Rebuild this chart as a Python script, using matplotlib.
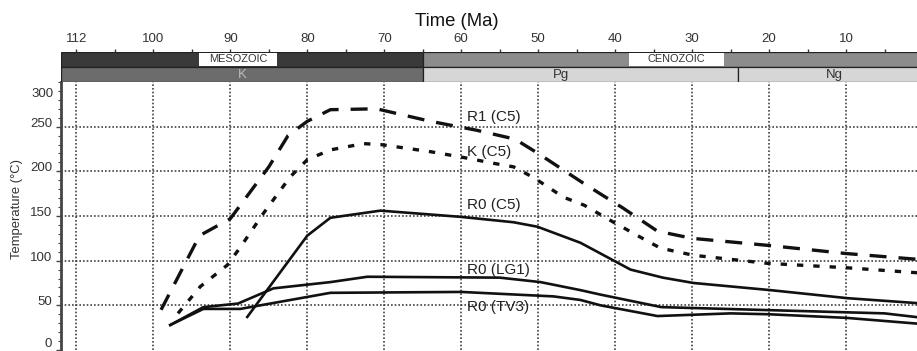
import matplotlib
matplotlib.use('Agg')
import matplotlib.pyplot as plt
from matplotlib.patches import Rectangle
from matplotlib.ticker import MultipleLocator

plt.rcParams['font.family'] = ['Liberation Sans', 'DejaVu Sans']

# ---------------- data ----------------
r1_age = [99, 94, 90, 85, 82.5, 80, 77, 71, 64, 58, 53, 50, 44, 39, 34.5, 30, 20, 10, 0]
r1_temp = [45, 128, 147, 205, 240, 256, 269, 270, 256, 246, 236, 220, 186, 159, 133, 125, 117, 108, 101]

k_age = [96.8, 93.9, 90.4, 88.7, 85.7, 82.2, 80, 77, 72.7, 70.5, 64, 60, 55.8, 53.2, 50.6, 46.7, 44, 40.2, 35.4, 34.1, 29.8, 20.2, 9.8, 0]
k_temp = [41, 71, 95, 115, 153, 194, 213, 224, 231, 230, 222, 216, 209, 205, 193, 171, 162, 143, 120, 114, 106, 97, 92, 86]

r0c5_age = [87.8, 80, 77, 70.5, 60, 53.2, 50.1, 44.5, 41.9, 38, 33.8, 29.8, 19.8, 9.8, 0]
r0c5_temp = [37, 128, 148, 156, 149, 143, 138, 120, 108, 90, 81, 75, 67, 58, 52]

lg1_age = [97.8, 93.5, 89, 84.4, 77, 72.2, 55, 49.7, 44.5, 41.9, 34, 5, 0]
lg1_temp = [28, 48, 52, 69, 76, 82, 81, 76, 67, 62, 48, 41, 36]

tv3_age = [97.8, 93.5, 88.7, 77, 60, 48, 44.5, 41.9, 34.5, 25, 20, 10, 0]
tv3_temp = [28, 46, 46, 64, 65, 60, 56, 50, 38, 41, 40, 36, 29]

series_names = ['R1 (C5)', 'K (C5)', 'R0 (C5)', 'R0 (LG1)', 'R0 (TV3)']

era_names = ['MESOZOIC', 'CENOZOIC']
era_start = [112, 65]
era_end = [65, 0]

period_names = ['K', 'Pg', 'Ng']
period_start = [112, 65, 24]
period_end = [65, 24, 0]

top_tick_pos = [110, 100, 90, 80, 70, 60, 50, 40, 30, 20, 10, 0]
top_tick_labels = ['112', '100', '90', '80', '70', '60', '50', '40', '30', '20', '10', '0']

y_ticks = [0, 50, 100, 150, 200, 250]

# ---------------- figure ----------------
W, H = 917, 351
fig = plt.figure(figsize=(W / 100, H / 100), dpi=100)

def frac(x0, y0, x1, y1):
    return [x0 / W, 1 - y1 / H, (x1 - x0) / W, (y1 - y0) / H]

ax = fig.add_axes(frac(61, 82, 923, 350))
axt = fig.add_axes(frac(61, 52, 923, 82))

# ---- main axes ----
ax.set_xlim(112, 0)
ax.set_ylim(0, 300)
for s in ['top', 'right', 'bottom']:
    ax.spines[s].set_visible(False)
ax.spines['left'].set_color('#444444')
ax.spines['left'].set_linewidth(2.0)

ax.set_xticks([110, 100, 90, 80, 70, 60, 50, 40, 30, 20, 10])
ax.tick_params(axis='x', bottom=False, labelbottom=False)
ax.set_yticks(y_ticks)
ax.yaxis.set_minor_locator(MultipleLocator(10))
ax.tick_params(axis='y', which='major', length=3.5, width=1.0, color='#444444',
               labelsize=9.5, labelcolor='#333333', pad=3)
ax.tick_params(axis='y', which='minor', length=2.5, width=0.8, color='#444444')
for lbl in ax.get_yticklabels():
    lbl.set_verticalalignment('baseline')
ax.get_yticklabels()[0].set_verticalalignment('bottom')
ax.annotate('300', xy=(0, 300), xycoords=('axes fraction', 'data'),
            xytext=(-5.5, -4.5), textcoords='offset points', ha='right', va='top',
            fontsize=9.5, color='#333333')

ax.grid(True, which='major', color='#333333', linestyle=(0, (1.1, 1.3)), linewidth=1.1)
ax.yaxis.get_major_ticks()[0].gridline.set_visible(False)

ax.plot(r1_age, r1_temp, color='#111111', lw=2.4, linestyle=(0, (5.1, 3.6)), dash_capstyle='butt')
ax.plot(k_age, k_temp, color='#111111', lw=2.4, linestyle=(0, (1.9, 3.0)), dash_capstyle='butt')
ax.plot(r0c5_age, r0c5_temp, color='#111111', lw=1.9)
ax.plot(lg1_age, lg1_temp, color='#111111', lw=1.9)
ax.plot(tv3_age, tv3_temp, color='#111111', lw=1.9)

label_y = [261, 222, 162, 90, 48]
for name, ly in zip(series_names, label_y):
    ax.text(59.3, ly, name, fontsize=11, color='#222222', ha='left', va='center')

# ---- time-scale bar ----
axt.set_xlim(112, 0)
axt.set_ylim(0, 2)
era_colors = ['#3a3a3a', '#8c8c8c']
period_colors = ['#6c6c6c', '#d6d6d6', '#d6d6d6']
for s, e, c in zip(era_start, era_end, era_colors):
    axt.add_patch(Rectangle((s, 1), e - s, 1, facecolor=c, edgecolor='#222222', lw=0.9))
for s, e, c in zip(period_start, period_end, period_colors):
    axt.add_patch(Rectangle((s, 0), e - s, 1, facecolor=c, edgecolor='#222222', lw=0.9))

era_label_x = [89, 32]
era_box_w = [10.1, 12.3]
for name, cx, bw in zip(era_names, era_label_x, era_box_w):
    axt.add_patch(Rectangle((cx - bw / 2, 1.07), bw, 0.86, facecolor='white', edgecolor='none'))
    axt.text(cx, 1.5, name, fontsize=7.9, color='#333333', ha='center', va='center')

period_label_x = [88.5, 47, 11.5]
period_text_colors = ['#bbbbbb', '#333333', '#333333']
for name, cx, tc in zip(period_names, period_label_x, period_text_colors):
    axt.text(cx, 0.45, name, fontsize=9.5, color=tc, ha='center', va='center')

for s in axt.spines.values():
    s.set_visible(False)
axt.set_yticks([])
axt.xaxis.set_ticks_position('top')
axt.set_xticks(top_tick_pos)
axt.set_xticklabels(top_tick_labels)
axt.xaxis.set_minor_locator(MultipleLocator(5))
axt.tick_params(axis='x', which='both', direction='out', length=2.5, width=1.0,
                color='#333333', labelsize=9.5, labelcolor='#333333', pad=2.5)

fig.text(457 / W, 1 - 21 / H, 'Time (Ma)', fontsize=13.3, color='#111111', ha='center', va='center')
fig.text(17 / W, 1 - 209 / H, 'Temperature (°C)', fontsize=9.4, color='#333333',
         ha='center', va='center', rotation=90)

fig.savefig('out.png', dpi=100)
